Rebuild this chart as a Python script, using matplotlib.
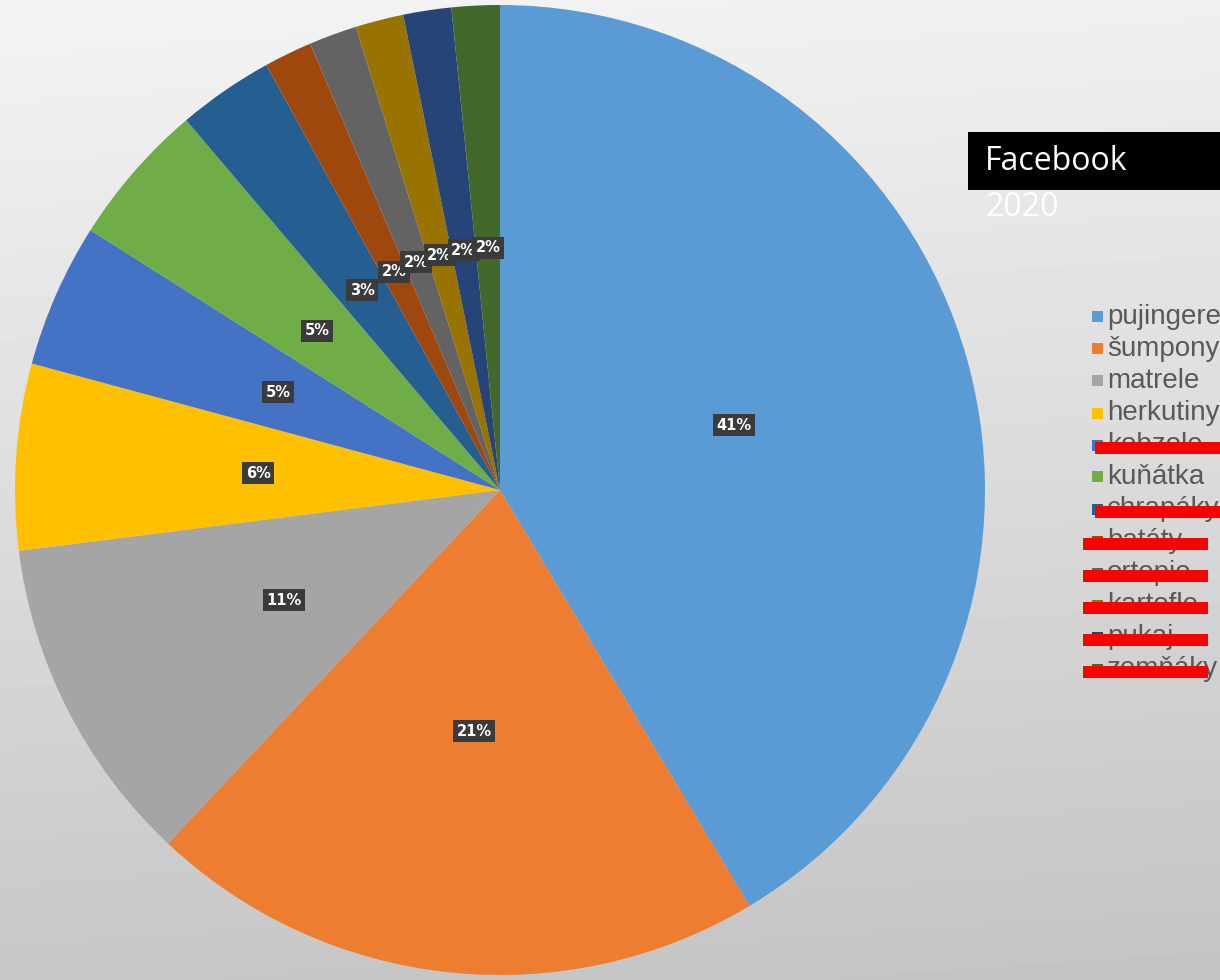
import numpy as np
import matplotlib
matplotlib.use('Agg')
import matplotlib.pyplot as plt
from matplotlib.patches import Rectangle

# Data
labels = ['pujingere', 'šumpony', 'matrele', 'herkutiny', 'kobzole', 'kuňátka',
          'chrapáky', 'batáty', 'ortepie', 'kartofle', 'pukaj', 'zemňáky']
shares = [41.4, 20.6, 11.0, 6.2, 4.8, 4.8, 3.2, 1.6, 1.6, 1.6, 1.6, 1.6]
colors = ['#5b9bd5', '#ed7d31', '#a5a5a5', '#ffc000', '#4472c4', '#70ad47',
          '#255e91', '#9e480e', '#636363', '#997300', '#264478', '#43682b']
struck = ['kobzole', 'chrapáky', 'batáty', 'ortepie', 'kartofle', 'pukaj', 'zemňáky']

W, H = 1220, 980
fig = plt.figure(figsize=(W / 100, H / 100), dpi=100)

# gradient background
bg = fig.add_axes([0, 0, 1, 1])
grad = np.linspace(0.955, 0.78, 256).reshape(-1, 1)
grad = grad + np.linspace(0.0, -0.015, 64).reshape(1, -1)
bg.imshow(grad, cmap='gray', vmin=0, vmax=1, aspect='auto', extent=[0, 1, 0, 1])
bg.set_axis_off()

# pie, centre ~(500, 490) px, radius ~485 px
cx, cy, r = 500, 490, 485
ax = fig.add_axes([(cx - r) / W, (H - cy - r) / H, 2 * r / W, 2 * r / H])
wedges, texts, autotexts = ax.pie(
    shares, colors=colors, startangle=90, counterclock=False,
    autopct='%.0f%%', pctdistance=0.5,
    wedgeprops=dict(edgecolor='none', linewidth=0),
    textprops=dict(color='white', fontsize=10.5, fontweight='bold'))
for t in autotexts:
    t.set_bbox(dict(facecolor='#3b3b3b', edgecolor='none', pad=2.5))
ax.set_xlim(-1, 1)
ax.set_ylim(-1, 1)
ax.set_axis_off()

# title box
fig.patches.append(Rectangle((968 / W, 1 - 190 / H), (W - 968) / W, 58 / H,
                             transform=fig.transFigure, facecolor='black',
                             edgecolor='none', zorder=5))
fig.text(985 / W, 1 - 162 / H, 'Facebook', color='white', fontsize=23,
         family='Open Sans', va='center', ha='left', zorder=6)
fig.text(985 / W, 1 - 207 / H, '2020', color='white', fontsize=23,
         family='Open Sans', va='center', ha='left', zorder=6)

# legend
y0, step = 317, 32
for i, (lab, col) in enumerate(zip(labels, colors)):
    y = y0 + i * step
    fig.patches.append(Rectangle((1092 / W, 1 - (y + 5.5) / H), 11 / W, 11 / H,
                                 transform=fig.transFigure, facecolor=col,
                                 edgecolor='none', zorder=5))
    fig.text(1107 / W, 1 - y / H, lab, color='#595959', fontsize=20,
             family='Liberation Sans', va='center', ha='left', zorder=6)
    if lab in struck:
        if lab in ('kobzole', 'chrapáky'):
            x1, x2 = 1095, 1220
        else:
            x1, x2 = 1083, 1208
        fig.patches.append(Rectangle((x1 / W, 1 - (y + 9) / H), (x2 - x1) / W, 12 / H,
                                     transform=fig.transFigure, facecolor='#ff0000',
                                     edgecolor='none', zorder=7))

fig.savefig('out.png', dpi=100)
